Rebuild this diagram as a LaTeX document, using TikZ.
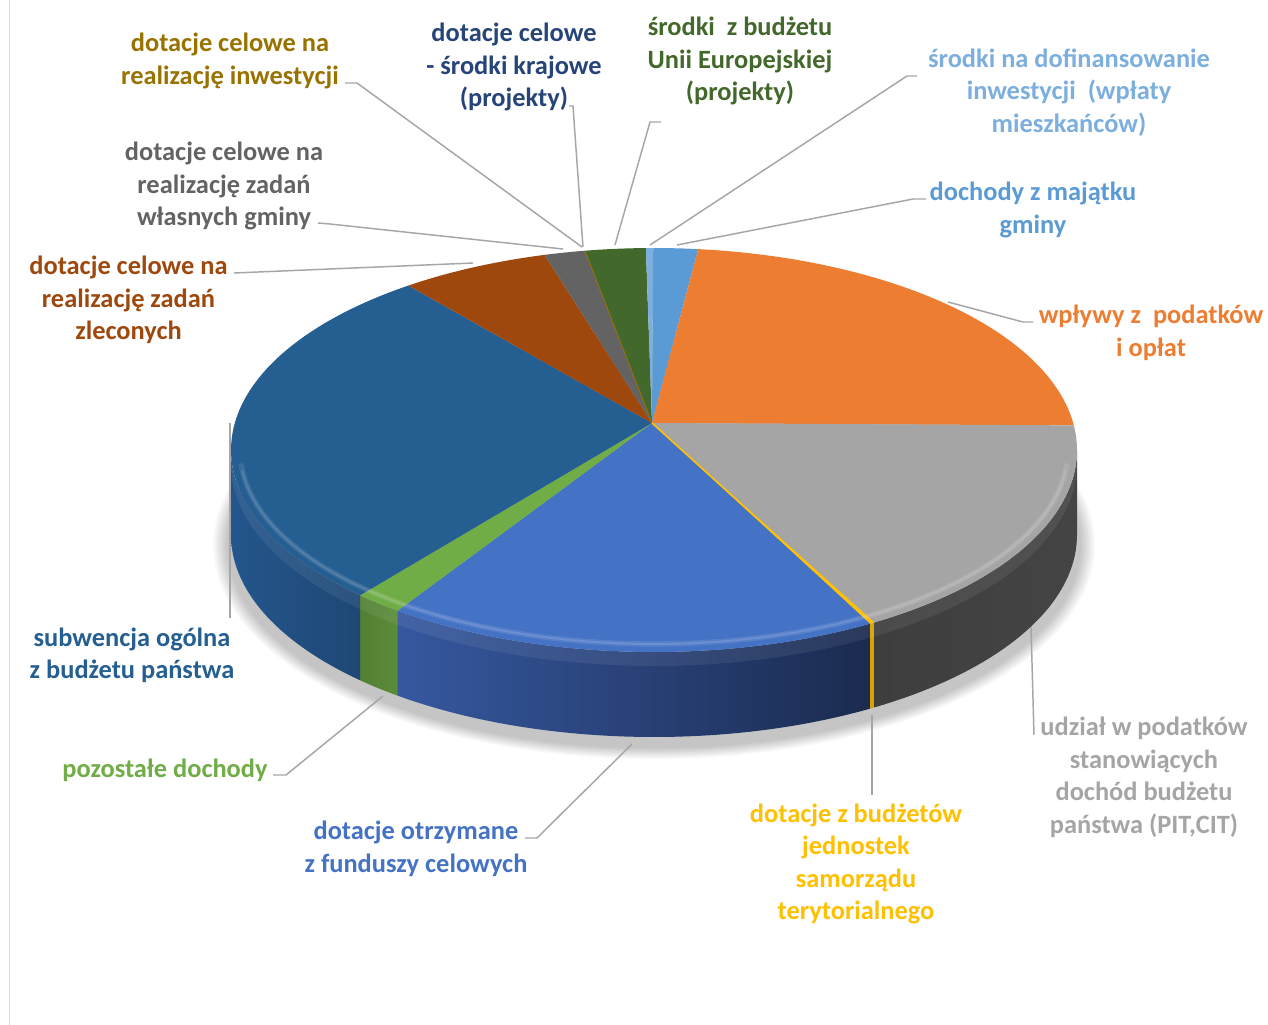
\documentclass[tikz,border=0pt]{standalone}
\usepackage{fontspec}
\setmainfont{Carlito}
\definecolor{cOr}{HTML}{ED7D31}
\definecolor{cGr}{HTML}{A5A5A5}
\definecolor{cYe}{HTML}{FFC000}
\definecolor{cBl}{HTML}{4472C4}
\definecolor{cGn}{HTML}{70AD47}
\definecolor{cSub}{HTML}{255E91}
\definecolor{cBr}{HTML}{9E480E}
\definecolor{cDg}{HTML}{636363}
\definecolor{cUE}{HTML}{43682B}
\definecolor{cLb}{HTML}{5B9BD5}
\definecolor{cDof}{HTML}{7CAFDD}
\definecolor{cInw}{HTML}{997300}
\definecolor{cKraj}{HTML}{264478}
\definecolor{leadc}{HTML}{A6A6A6}
\definecolor{framec}{HTML}{D9D9D9}
\definecolor{sGrL}{HTML}{444444}
\definecolor{sGrR}{HTML}{3E3E3E}
\definecolor{sYe}{HTML}{D9A200}
\definecolor{sBlL}{HTML}{36589F}
\definecolor{sBlR}{HTML}{1B2B50}
\definecolor{sGnL}{HTML}{5B8C39}
\definecolor{sGnR}{HTML}{528033}
\definecolor{sSubL}{HTML}{24568C}
\definecolor{sSubR}{HTML}{1E4774}
\newcommand\pcx{654}
\newcommand\pcy{450}
\newcommand\prx{423}
\newcommand\pry{202}
\newcommand\pdep{85}
\newcommand\topslice[3]{\fill[#3] (A) -- plot[domain=#1:#2,samples=60] ({\pcx+\prx*cos(\x)},{\pcy+\pry*sin(\x)}) -- cycle;}
\newcommand\sideslice[4]{\shade[left color=#3,right color=#4] plot[domain=#1:#2,samples=40] ({\pcx+\prx*cos(\x)},{\pcy+\pry*sin(\x)}) -- plot[domain=#2:#1,samples=40] ({\pcx+\prx*cos(\x)},{\pcy+\pdep+\pry*sin(\x)}) -- cycle;}
\begin{document}
\begin{tikzpicture}[x=0.75pt,y=-0.75pt,
  lbl/.style={font=\fontsize{19.8}{24.4}\selectfont\bfseries, align=center, inner sep=0pt},
  lead/.style={draw=leadc, line width=1.1pt}]
\useasboundingbox (0,0) rectangle (1268,1025);
\fill[white] (0,0) rectangle (1268,1025);
\draw[framec,line width=1.2pt] (9.5,0) -- (9.5,1025);
% shadow
\foreach \i in {0,...,9} {\fill[black,opacity=0.022] (654,545) ellipse ({441-1.6*\i} and {214-1.2*\i});}
\coordinate (A) at (652,423);
% side walls
\sideslice{0}{58.6}{sGrR}{sGrL}
\sideslice{58.6}{59.3}{sYe}{sYe}
\sideslice{59.3}{127.3}{sBlL}{sBlR}
\sideslice{127.3}{134}{sGnR}{sGnL}
\sideslice{134}{180}{sSubL}{sSubR}
% side bevel (light band under the rim)
\fill[white,opacity=0.07] plot[domain=0:180,samples=90] ({\pcx+\prx*cos(\x)},{\pcy+\pry*sin(\x)}) -- plot[domain=180:0,samples=90] ({\pcx+\prx*cos(\x)},{\pcy+14+\pry*sin(\x)}) -- cycle;
% top face
\topslice{-99.4}{-91.1}{cUE}
\topslice{-91.1}{-90.1}{cDof}
\topslice{-90.1}{-84}{cLb}
\topslice{-84}{-7}{cOr}
\topslice{-7}{58.6}{cGr}
\topslice{58.6}{59.3}{cYe}
\topslice{59.3}{127.3}{cBl}
\topslice{127.3}{134}{cGn}
\topslice{134}{234.5}{cSub}
\topslice{234.5}{255}{cBr}
\topslice{255}{260.6}{cDg}
\coordinate (Pinw) at ({\pcx+\prx*cos(260.6)},{\pcy+\pry*sin(260.6)});
\draw[cInw,line width=0.6pt] (A) -- (Pinw);
\coordinate (Pye) at ({\pcx+\prx*cos(58.95)},{\pcy+\pry*sin(58.95)});
\draw[cYe,line width=1.2pt] (A) -- (Pye);
% bevel highlight on top face
\draw[white,opacity=0.10,line width=4pt] plot[domain=4:176,samples=80] ({\pcx+(\prx-9)*cos(\x)},{\pcy+(\pry-8)*sin(\x)});
\draw[white,opacity=0.12,line width=1.5pt] plot[domain=6:174,samples=80] ({\pcx+(\prx-9)*cos(\x)},{\pcy+(\pry-8)*sin(\x)});
% labels
\node[lbl,text=cInw] (Linw) at (230,61) {dotacje celowe na\\realizację inwestycji};
\node[lbl,text=cKraj] (Lkraj) at (514,67) {dotacje celowe\\- środki krajowe\\(projekty)};
\node[lbl,text=cUE] (LUE) at (740,61) {środki~ z budżetu\\Unii Europejskiej\\(projekty)};
\node[lbl,text=cDof] (Ldof) at (1069,92.5) {środki na dofinansowanie\\inwestycji~ (wpłaty\\mieszkańców)};
\node[lbl,text=cLb] (Lmaj) at (1033,210) {dochody z majątku\\gminy};
\node[lbl,text=cOr] (Lwpl) at (1151,333) {wpływy z~ podatków\\i opłat};
\node[lbl,text=cGr] (Ludz) at (1144,777.5) {udział w podatków\\stanowiących\\dochód budżetu\\państwa (PIT,CIT)};
\node[lbl,text=cYe] (Ljst) at (856,864) {dotacje z budżetów\\jednostek\\samorządu\\terytorialnego};
\node[lbl,text=cBl] (Lfun) at (416,849) {dotacje otrzymane\\z funduszy celowych};
\node[lbl,text=cGn] (Lpoz) at (165,770) {pozostałe dochody};
\node[lbl,text=cSub] (Lsub) at (132,655.5) {subwencja ogólna\\z budżetu państwa};
\node[lbl,text=cBr] (Lzle) at (128.5,300) {dotacje celowe na\\realizację zadań\\zleconych};
\node[lbl,text=cDg] (Lwla) at (224,186) {dotacje celowe na\\realizację zadań\\własnych gminy};
% leader lines
\coordinate (Sinw) at (345,83); \coordinate (Einw) at (357,83); \coordinate (Tinw) at (582,247);
\draw[lead] (Sinw) -- (Einw) -- (Tinw);
\coordinate (Skraj) at (569,106); \coordinate (Ekraj) at (573,106); \coordinate (Tkraj) at (583,247);
\draw[lead] (Skraj) -- (Ekraj) -- (Tkraj);
\coordinate (SUE) at (661,122); \coordinate (EUE) at (650,122); \coordinate (TUE) at (615,245);
\draw[lead] (SUE) -- (EUE) -- (TUE);
\coordinate (Sdof) at (917,76); \coordinate (Edof) at (907,76); \coordinate (Tdof) at (650,245);
\draw[lead] (Sdof) -- (Edof) -- (Tdof);
\coordinate (Smaj) at (926,199); \coordinate (Emaj) at (913,199); \coordinate (Tmaj) at (677,245);
\draw[lead] (Smaj) -- (Emaj) -- (Tmaj);
\coordinate (Swpl) at (1033,322); \coordinate (Ewpl) at (1023,322); \coordinate (Twpl) at (948,302);
\draw[lead] (Swpl) -- (Ewpl) -- (Twpl);
\coordinate (Sudz) at (1034,735); \coordinate (Tudz) at (1031,627);
\draw[lead] (Sudz) -- (Tudz);
\coordinate (Sjst) at (872,795); \coordinate (Tjst) at (872,715);
\draw[lead] (Sjst) -- (Tjst);
\coordinate (Sfun) at (525,838); \coordinate (Efun) at (537,838); \coordinate (Tfun) at (632,744);
\draw[lead] (Sfun) -- (Efun) -- (Tfun);
\coordinate (Spoz) at (273,775); \coordinate (Epoz) at (286,775); \coordinate (Tpoz) at (383,696);
\draw[lead] (Spoz) -- (Epoz) -- (Tpoz);
\coordinate (Ssub) at (230,618); \coordinate (Tsub) at (230,423);
\draw[lead] (Ssub) -- (Tsub);
\coordinate (Szle) at (234,273); \coordinate (Tzle) at (473,263);
\draw[lead] (Szle) -- (Tzle);
\coordinate (Swla) at (318,223); \coordinate (Ewla) at (330,224); \coordinate (Twla) at (563,249);
\draw[lead] (Swla) -- (Ewla) -- (Twla);
\end{tikzpicture}
\end{document}
